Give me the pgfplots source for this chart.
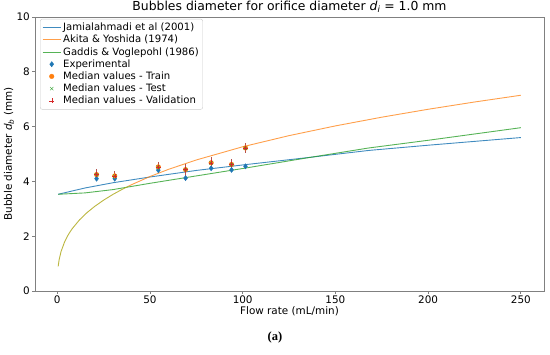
\documentclass[border=0pt]{standalone}
\usepackage{fontspec}
\setmainfont{DejaVu Sans}
\newfontfamily\capfont{Liberation Serif}
\usepackage{pgfplots}
\pgfplotsset{compat=1.18}
\definecolor{tabblue}{HTML}{1F77B4}
\definecolor{taborange}{HTML}{FF7F0E}
\definecolor{tabgreen}{HTML}{2CA02C}
\definecolor{tabred}{HTML}{D62728}
\definecolor{tabolive}{HTML}{B0AA20}
\definecolor{errred}{HTML}{A8322D}
\definecolor{spine}{HTML}{808080}
\begin{document}
\begin{tikzpicture}
\path[use as bounding box] (0,0) rectangle (550pt,355pt);
\begin{axis}[
  at={(35pt,64pt)}, anchor=south west,
  scale only axis, width=509pt, height=274pt,
  xmin=-12, xmax=262.5, ymin=0, ymax=10,
  xtick={0,50,100,150,200,250}, ytick={0,2,4,6,8,10},
  tick align=outside, tick pos=left, major tick length=3pt,
  axis line style={spine, line width=0.8pt}, tick style={spine, line width=0.7pt},
  /pgf/number format/assume math mode=true,
  ticklabel style={font=\fontsize{10.4}{12}\selectfont},
  xticklabel style={inner sep=2pt},
  yticklabel style={inner sep=2pt},
  label style={font=\fontsize{10.4}{12}\selectfont},
  title={Bubbles diameter for orifice diameter \textit{d}\textsubscript{\textit{i}} = 1.0 mm},
  title style={font=\fontsize{12.4}{14}\selectfont, at={(0.5,1)}, anchor=south, yshift=-3pt, inner sep=1pt},
  xlabel={Flow rate (mL/min)},
  xlabel style={at={(axis description cs:0.5,0)}, anchor=center, yshift=-20pt},
  ylabel={Bubble diameter \textit{d}\textsubscript{\textit{b}} (mm)},
  ylabel style={at={(axis description cs:-0.051,0.5)}, anchor=center},
  legend cell align=left,
  legend style={at={(axis description cs:0.01,0.993)}, anchor=north west,
    draw=black!20, rounded corners=2pt, fill=white,
    font=\fontsize{10.1}{12}\selectfont, row sep=-1pt, inner sep=2pt},
  legend image code/.code={\draw[#1] (3pt,0pt) -- (21pt,0pt);},
]
% Jamialahmadi et al (2001)
\addplot[tabblue, opacity=0.85, line width=0.9pt] coordinates {
 (0.5,3.53) (15,3.76) (30,3.95) (50,4.16) (75,4.40) (100,4.60) (134,4.86) (168,5.13) (200,5.32) (225,5.46) (250,5.60)};
\addlegendentry{Jamialahmadi et al (2001)}
% Akita & Yoshida (1974)
\addplot[taborange, opacity=0.75, line width=0.9pt] coordinates {
 (38,3.813) (40,3.878) (50,4.178) (60,4.440) (75,4.782) (100,5.264) (125,5.670) (150,6.025) (175,6.343) (200,6.632) (225,6.897) (250,7.144)};
\addlegendentry{Akita \& Yoshida (1974)}
% Gaddis & Voglepohl (1986)
\addplot[tabgreen, opacity=0.8, line width=0.9pt] coordinates {
 (0.5,3.53) (15,3.58) (30,3.70) (50,3.93) (75,4.20) (100,4.47) (134,4.85) (168,5.22) (200,5.50) (225,5.73) (250,5.96)};
\addlegendentry{Gaddis \& Voglepohl (1986)}
% low-flow part of the Akita curve
\addplot[tabolive, opacity=0.85, line width=0.9pt, forget plot] coordinates {
 (0.5,0.900) (1,1.134) (2,1.429) (4,1.800) (6,2.061) (8,2.268) (12,2.596) (16,2.857) (20,3.078) (25,3.316) (30,3.524) (35,3.709) (38,3.813)};
% Experimental
\addplot[only marks, mark=diamond*, mark size=2.6pt, color=tabblue,
  legend image code/.code={\draw[mark=diamond*,mark size=2.6pt,tabblue] plot coordinates {(12pt,0pt)};}] coordinates {
 (21.2,4.10) (31,4.10) (54.5,4.41) (69.2,4.12) (83,4.48) (94,4.42) (101.5,4.55)};
\addlegendentry{Experimental}
% Median values - Train
\addplot[only marks, mark=*, mark size=2.3pt, color=taborange,
  legend image code/.code={\draw[mark=*,mark size=2.3pt,taborange] plot coordinates {(12pt,0pt)};}] coordinates {
 (21.2,4.25) (31,4.20) (54.5,4.53) (69.2,4.43) (83,4.68) (94,4.62) (101.5,5.22)};
\addlegendentry{Median values - Train}
% Median values - Test
\addplot[only marks, mark=x, mark size=2.3pt, color=tabgreen,
  legend image code/.code={\draw[mark=x,mark size=2.3pt,tabgreen] plot coordinates {(12pt,0pt)};}] coordinates {
 (21.2,4.24) (31,4.19) (54.5,4.52) (69.2,4.42) (83,4.67) (94,4.61) (101.5,5.21)};
\addlegendentry{Median values - Test}
% Median values - Validation
\addplot[only marks, mark=+, mark size=2.3pt, color=tabred,
  legend image code/.code={\draw[mark=+,mark size=2.3pt,tabred] plot coordinates {(12pt,0pt)};},
  error bars/.cd, y dir=both, y explicit,
  error bar style={errred, line width=1.2pt, opacity=0.85}, error mark=none,
  ] coordinates {
 (21.2,4.25) +- (0,0.22)
 (31,4.20) +- (0,0.18)
 (54.5,4.53) +- (0,0.18)
 (69.2,4.43) +- (0,0.22)
 (83,4.68) +- (0,0.22)
 (94,4.62) +- (0,0.18)
 (101.5,5.22) +- (0,0.18)};
\addlegendentry{Median values - Validation}
\end{axis}
\node[font=\capfont\bfseries\fontsize{12.5}{14}\selectfont] at (275pt,17pt) {(a)};
\end{tikzpicture}
\end{document}
